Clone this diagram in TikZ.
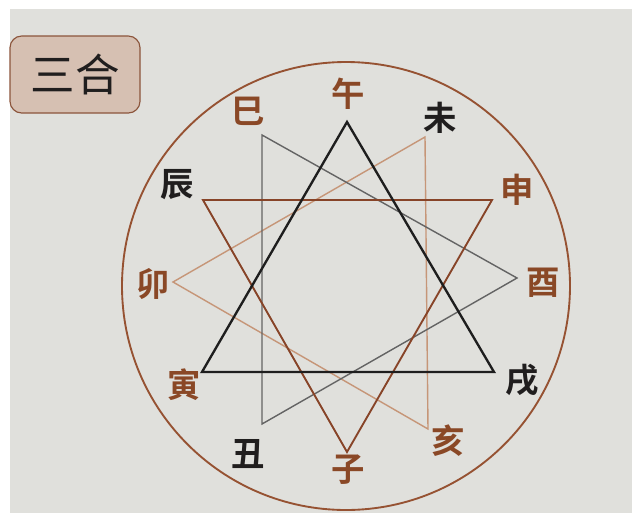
\documentclass[tikz,border=0pt]{standalone}
\usepackage{fontspec}
\newfontfamily\cjk{Noto Sans CJK SC}
\newfontfamily\cjkbold{Noto Sans CJK SC Bold}
\usetikzlibrary{positioning, calc}
\definecolor{papercolor}{RGB}{224, 224, 220}
\definecolor{branchbrown}{RGB}{138, 72, 38}
\definecolor{branchblack}{RGB}{32, 30, 30}
\definecolor{circlecolor}{RGB}{150, 82, 50}
\definecolor{tricolorA}{RGB}{30, 30, 30}
\definecolor{tricolorB}{RGB}{135, 68, 40}
\definecolor{tricolorC}{RGB}{100, 100, 100}
\definecolor{tricolorD}{RGB}{198, 150, 120}
\definecolor{titlefill}{RGB}{214, 192, 178}
\definecolor{titledraw}{RGB}{140, 85, 60}

\begin{document}
\begin{tikzpicture}[
    x=0.03cm, y=-0.03cm,
    branch/.style={font=\cjkbold\fontsize{28.5}{30}\selectfont, inner sep=0pt},
    brownbranch/.style={branch, text=branchbrown},
    blackbranch/.style={branch, text=branchblack},
    tri/.style={line join=miter},
    title/.style={rectangle, rounded corners=10pt, draw=titledraw, fill=titlefill, line width=1pt,
                  minimum width=130*0.03cm, minimum height=77*0.03cm, font=\cjk\fontsize{38}{40}\selectfont, text=branchblack}
]

% Paper
\useasboundingbox (0, 0) rectangle (640, 523);
\fill[white] (0, 0) rectangle (640, 523);
\fill[papercolor] (10, 9) rectangle (632, 513);

% Title
\node[title] (title) at (75, 74.5) {三合};

% Outer circle
\coordinate (center) at (346, 286);
\draw[circlecolor, line width=1.6pt] (center) circle [radius=224*0.03cm];

% Triangle corners
\coordinate (wu) at (347, 122);
\coordinate (yin) at (202, 372);
\coordinate (xu) at (494, 372);
\coordinate (shen) at (492, 200);
\coordinate (zi) at (347, 452);
\coordinate (chen) at (203, 200);
\coordinate (si) at (262, 135);
\coordinate (you) at (517, 278);
\coordinate (chou) at (262, 424);
\coordinate (wei) at (425, 137);
\coordinate (mao) at (173, 282);
\coordinate (hai) at (428, 429);

% Triangles
\draw[tri, tricolorD, line width=1.2pt] (hai) -- (mao) -- (wei) -- cycle;
\draw[tri, tricolorC, line width=1.2pt] (si) -- (you) -- (chou) -- cycle;
\draw[tri, tricolorB, line width=1.6pt] (shen) -- (zi) -- (chen) -- cycle;
\draw[tri, tricolorA, line width=2pt] (yin) -- (wu) -- (xu) -- cycle;

% Branch labels
\node[brownbranch] (l_wu) at (348, 94) {午};
\node[brownbranch] (l_si) at (248, 111) {巳};
\node[blackbranch] (l_wei) at (440, 118) {未};
\node[blackbranch] (l_chen) at (177, 185) {辰};
\node[brownbranch] (l_shen) at (517, 190) {申};
\node[brownbranch] (l_mao) at (153, 284) {卯};
\node[brownbranch] (l_you) at (543, 283) {酉};
\node[brownbranch] (l_yin) at (184, 385) {寅};
\node[blackbranch] (l_xu) at (522, 380) {戌};
\node[blackbranch] (l_chou) at (248, 454) {丑};
\node[brownbranch] (l_zi) at (348, 470) {子};
\node[brownbranch] (l_hai) at (448, 441) {亥};

\end{tikzpicture}
\end{document}
